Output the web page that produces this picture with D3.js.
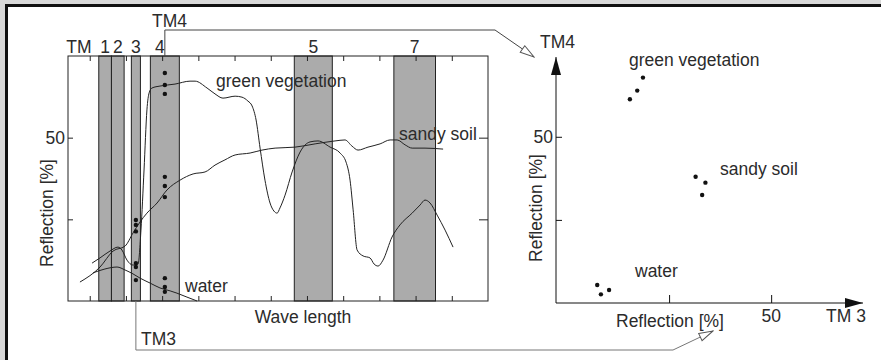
<!DOCTYPE html>
<html>
<head>
<meta charset="utf-8">
<script src="https://cdn.jsdelivr.net/npm/d3@7"></script>
<style>
  body { margin: 0; background: #d9d9d9; }
  svg text { font-family: "Liberation Sans", Arial, sans-serif; fill: #2b2b2b; font-size: 17.5px; }
</style>
</head>
<body>
<svg width="881" height="360"></svg>
<script>
// bandes TM (µm)
const bandNames = ['1', '2', '3', '4', '5', '7'];
const bandStart = [0.45, 0.52, 0.63, 0.735, 1.53, 2.08];
const bandEnd   = [0.52, 0.59, 0.68, 0.895, 1.74, 2.31];
const waveTicks = [0.4, 0.6, 0.8, 1.0, 1.2, 1.4, 1.6, 1.8, 2.0, 2.2, 2.4];
const reflTicks = [25, 50];

// courbes spectrales [µm, %]
const greenVeg = [[0.413, 11.6], [0.457, 13.2], [0.512, 15.3], [0.556, 16.5], [0.578, 15.6], [0.606, 12.5],
  [0.639, 11.0], [0.667, 11.3], [0.683, 21.7], [0.700, 40.1], [0.716, 58.5], [0.728, 63.7], [0.744, 65.2],
  [0.788, 65.8], [0.871, 66.4], [0.954, 67.3], [0.982, 67.3], [1.048, 65.2], [1.092, 63.4], [1.136, 62.1],
  [1.203, 62.7], [1.241, 62.4], [1.274, 61.2], [1.297, 59.7], [1.319, 55.4], [1.341, 46.8], [1.368, 37.0],
  [1.396, 30.0], [1.418, 27.5], [1.435, 26.9], [1.451, 28.5], [1.479, 32.4], [1.518, 39.5], [1.562, 45.6],
  [1.617, 48.7], [1.661, 49.0], [1.728, 47.1], [1.783, 45.3], [1.816, 42.5], [1.838, 37.0], [1.855, 27.9],
  [1.877, 15.6], [1.910, 13.8], [1.948, 13.2], [1.971, 11.3], [1.993, 10.7], [2.020, 12.5], [2.070, 19.6],
  [2.114, 23.3], [2.181, 26.9], [2.225, 29.4], [2.252, 30.9], [2.280, 30.0], [2.319, 26.3], [2.363, 21.7],
  [2.407, 16.5]];
const sandySoil = [[0.346, 5.8], [0.457, 10.4], [0.529, 15.3], [0.595, 16.8], [0.639, 20.8], [0.678, 24.2],
  [0.716, 26.9], [0.772, 30.0], [0.827, 34.0], [0.899, 37.0], [0.971, 38.9], [1.037, 39.5], [1.092, 41.6],
  [1.147, 43.2], [1.203, 44.7], [1.286, 45.3], [1.352, 46.2], [1.424, 46.8], [1.534, 47.1], [1.645, 48.1],
  [1.755, 49.0], [1.810, 49.3], [1.849, 47.4], [1.882, 46.2], [1.937, 47.1], [2.004, 48.1], [2.059, 49.3],
  [2.098, 49.3], [2.142, 47.8], [2.181, 46.8], [2.252, 46.8], [2.352, 46.5]];
const water = [[0.418, 8.6], [0.484, 9.8], [0.551, 10.4], [0.595, 9.5], [0.639, 8.3], [0.678, 7.0],
  [0.733, 5.5], [0.788, 4.0], [0.844, 3.1], [0.882, 2.4], [0.937, 1.2], [0.993, 0]];

// points échantillons dans TM3 et TM4 (%)
const tm3Dots = [24.8, 23.3, 21.3, 11.6, 10.4, 6.4];
const tm4Dots = [69.8, 66.1, 63.4, 38.0, 35.2, 31.8, 7.0, 4.3, 2.8];

// nuage TM3 / TM4 (%)
const greenTM3 = [15.4, 17.2, 18.6], greenTM4 = [61.3, 63.9, 67.8];
const soilTM3  = [31.5, 33.9, 33.1], soilTM4  = [38.0, 36.2, 32.5];
const waterTM3 = [7.4, 8.3, 10.3],   waterTM4 = [5.4, 2.6, 3.9];
const scatterTicks = [25, 50];

const svg = d3.select('svg');

// cadre
svg.append('rect').attr('x', 6.5).attr('y', 5.5).attr('width', 900).attr('height', 400)
  .attr('fill', '#fff').attr('stroke', '#111').attr('stroke-width', 3);

// échelles
const x = d3.scaleLinear().domain([0.28, 2.6]).range([68, 488]);
const y = d3.scaleLinear().domain([0, 75]).range([301, 56]);
const x2 = d3.scaleLinear().domain([-2.7, 72.5]).range([556, 863]);
const y2 = d3.scaleLinear().domain([0, 74]).range([303, 57]);

// flèches
const defs = svg.append('defs');
defs.append('marker').attr('id', 'open').attr('viewBox', '0 0 16 10')
  .attr('refX', 15).attr('refY', 5).attr('markerWidth', 16).attr('markerHeight', 10)
  .attr('markerUnits', 'userSpaceOnUse').attr('orient', 'auto')
  .append('path').attr('d', 'M1,1 L15,5 L1,9 Z').attr('fill', '#fff').attr('stroke', '#555');
defs.append('marker').attr('id', 'solid').attr('viewBox', '0 0 18 10')
  .attr('refX', 18).attr('refY', 5).attr('markerWidth', 18).attr('markerHeight', 10)
  .attr('markerUnits', 'userSpaceOnUse').attr('orient', 'auto')
  .append('path').attr('d', 'M0,0 L18,5 L0,10 Z').attr('fill', '#111');

// bandes
const g1 = svg.append('g');
g1.selectAll('rect.band').data(bandNames).join('rect')
  .attr('x', (d, i) => x(bandStart[i])).attr('y', y(75))
  .attr('width', (d, i) => x(bandEnd[i]) - x(bandStart[i])).attr('height', y(0) - y(75))
  .attr('fill', '#ababab').attr('stroke', '#222').attr('stroke-width', 1);

// axes
g1.append('g').attr('transform', `translate(0,${y(75)})`)
  .call(d3.axisTop(x).tickValues(waveTicks).tickSize(-5).tickFormat(''));
g1.append('g').attr('transform', `translate(0,${y(0)})`)
  .call(d3.axisBottom(x).tickValues(waveTicks).tickSize(-5).tickFormat(''));
g1.append('g').attr('transform', `translate(${x(0.28)},0)`)
  .call(d3.axisLeft(y).tickValues(reflTicks).tickSize(-5).tickFormat(d => d === 50 ? '50' : ''));
g1.append('g').attr('transform', `translate(${x(2.6)},0)`)
  .call(d3.axisRight(y).tickValues(reflTicks).tickSize(-9).tickFormat(''));
g1.selectAll('.domain').remove();
g1.selectAll('.tick line').attr('stroke', '#222');
g1.selectAll('.tick text').style('font-size', '17.5px').attr('fill', '#2b2b2b');
g1.append('rect').attr('x', x(0.28)).attr('y', y(75)).attr('width', x(2.6) - x(0.28)).attr('height', y(0) - y(75))
  .attr('fill', 'none').attr('stroke', '#222');

// courbes
const line = d3.line().x(d => x(d[0])).y(d => y(d[1])).curve(d3.curveMonotoneX);
[greenVeg, sandySoil, water].forEach(c => {
  g1.append('path').datum(c).attr('d', line).attr('fill', 'none').attr('stroke', '#222').attr('stroke-width', 1);
});

// points TM3 / TM4
const c3 = (x(bandStart[2]) + x(bandEnd[2])) / 2, c4 = (x(bandStart[3]) + x(bandEnd[3])) / 2;
g1.selectAll('circle.t3').data(tm3Dots).join('circle').attr('cx', c3).attr('cy', d => y(d)).attr('r', 2.2).attr('fill', '#111');
g1.selectAll('circle.t4').data(tm4Dots).join('circle').attr('cx', c4).attr('cy', d => y(d)).attr('r', 2.2).attr('fill', '#111');

// étiquettes des bandes
g1.append('text').attr('x', 79).attr('y', 53).attr('text-anchor', 'middle').text('TM');
g1.selectAll('text.bn').data(bandNames).join('text').attr('class', 'bn')
  .attr('x', (d, i) => (x(bandStart[i]) + x(bandEnd[i])) / 2 - (d === '4' ? 5 : 0)).attr('y', 53)
  .attr('text-anchor', 'middle').text(d => d);
g1.append('text').attr('x', 152).attr('y', 27).text('TM4');
g1.append('text').attr('x', 141).attr('y', 345).text('TM3');

g1.append('text').attr('x', 216).attr('y', 87).text('green vegetation');
g1.append('text').attr('x', 399).attr('y', 140).text('sandy soil');
g1.append('text').attr('x', 185).attr('y', 292).text('water');
g1.append('text').attr('x', 303).attr('y', 323).attr('text-anchor', 'middle').text('Wave length');
g1.append('text').attr('transform', 'translate(53,213) rotate(-90)').attr('text-anchor', 'middle').text('Reflection [%]');

// connecteurs
svg.append('path').attr('d', `M${c4},${y(75)} V30 H495 L534,57`)
  .attr('fill', 'none').attr('stroke', '#444').attr('marker-end', 'url(#open)');
svg.append('path').attr('d', `M${c3},${y(0)} V350 H673 L713,331`)
  .attr('fill', 'none').attr('stroke', '#777').attr('marker-end', 'url(#open)');

// nuage de points
const g2 = svg.append('g');
g2.append('line').attr('x1', x2(-2.7)).attr('x2', x2(72.5)).attr('y1', y2(0)).attr('y2', y2(0))
  .attr('stroke', '#111').attr('marker-end', 'url(#solid)');
g2.append('line').attr('x1', x2(-2.7)).attr('x2', x2(-2.7)).attr('y1', y2(0)).attr('y2', y2(74))
  .attr('stroke', '#111').attr('marker-end', 'url(#solid)');
g2.append('g').attr('transform', `translate(${x2(-2.7)},0)`)
  .call(d3.axisLeft(y2).tickValues(scatterTicks).tickSize(-6).tickFormat(d => d === 50 ? '50' : ''));
g2.append('g').attr('transform', `translate(0,${y2(0)})`)
  .call(d3.axisBottom(x2).tickValues(scatterTicks).tickSize(-8).tickFormat(''));
g2.selectAll('.domain').remove();
g2.selectAll('.tick line').attr('stroke', '#111');
g2.selectAll('.tick text').style('font-size', '17.5px').attr('fill', '#2b2b2b');

const pts = [[greenTM3, greenTM4], [soilTM3, soilTM4], [waterTM3, waterTM4]];
pts.forEach(([a, b]) => {
  g2.selectAll(null).data(a).join('circle').attr('cx', d => x2(d)).attr('cy', (d, i) => y2(b[i]))
    .attr('r', 2.2).attr('fill', '#111');
});

g2.append('text').attr('x', 540).attr('y', 48).text('TM4');
g2.append('text').attr('x', 629).attr('y', 66).text('green vegetation');
g2.append('text').attr('x', 720).attr('y', 175).text('sandy soil');
g2.append('text').attr('x', 635).attr('y', 277).text('water');
g2.append('text').attr('x', 616).attr('y', 327).text('Reflection [%]');
g2.append('text').attr('x', x2(50)).attr('y', 322).attr('text-anchor', 'middle').text('50');
g2.append('text').attr('x', 826).attr('y', 322).text('TM 3');
g2.append('text').attr('transform', 'translate(542,208) rotate(-90)').attr('text-anchor', 'middle').text('Reflection [%]');
</script>
</body>
</html>
